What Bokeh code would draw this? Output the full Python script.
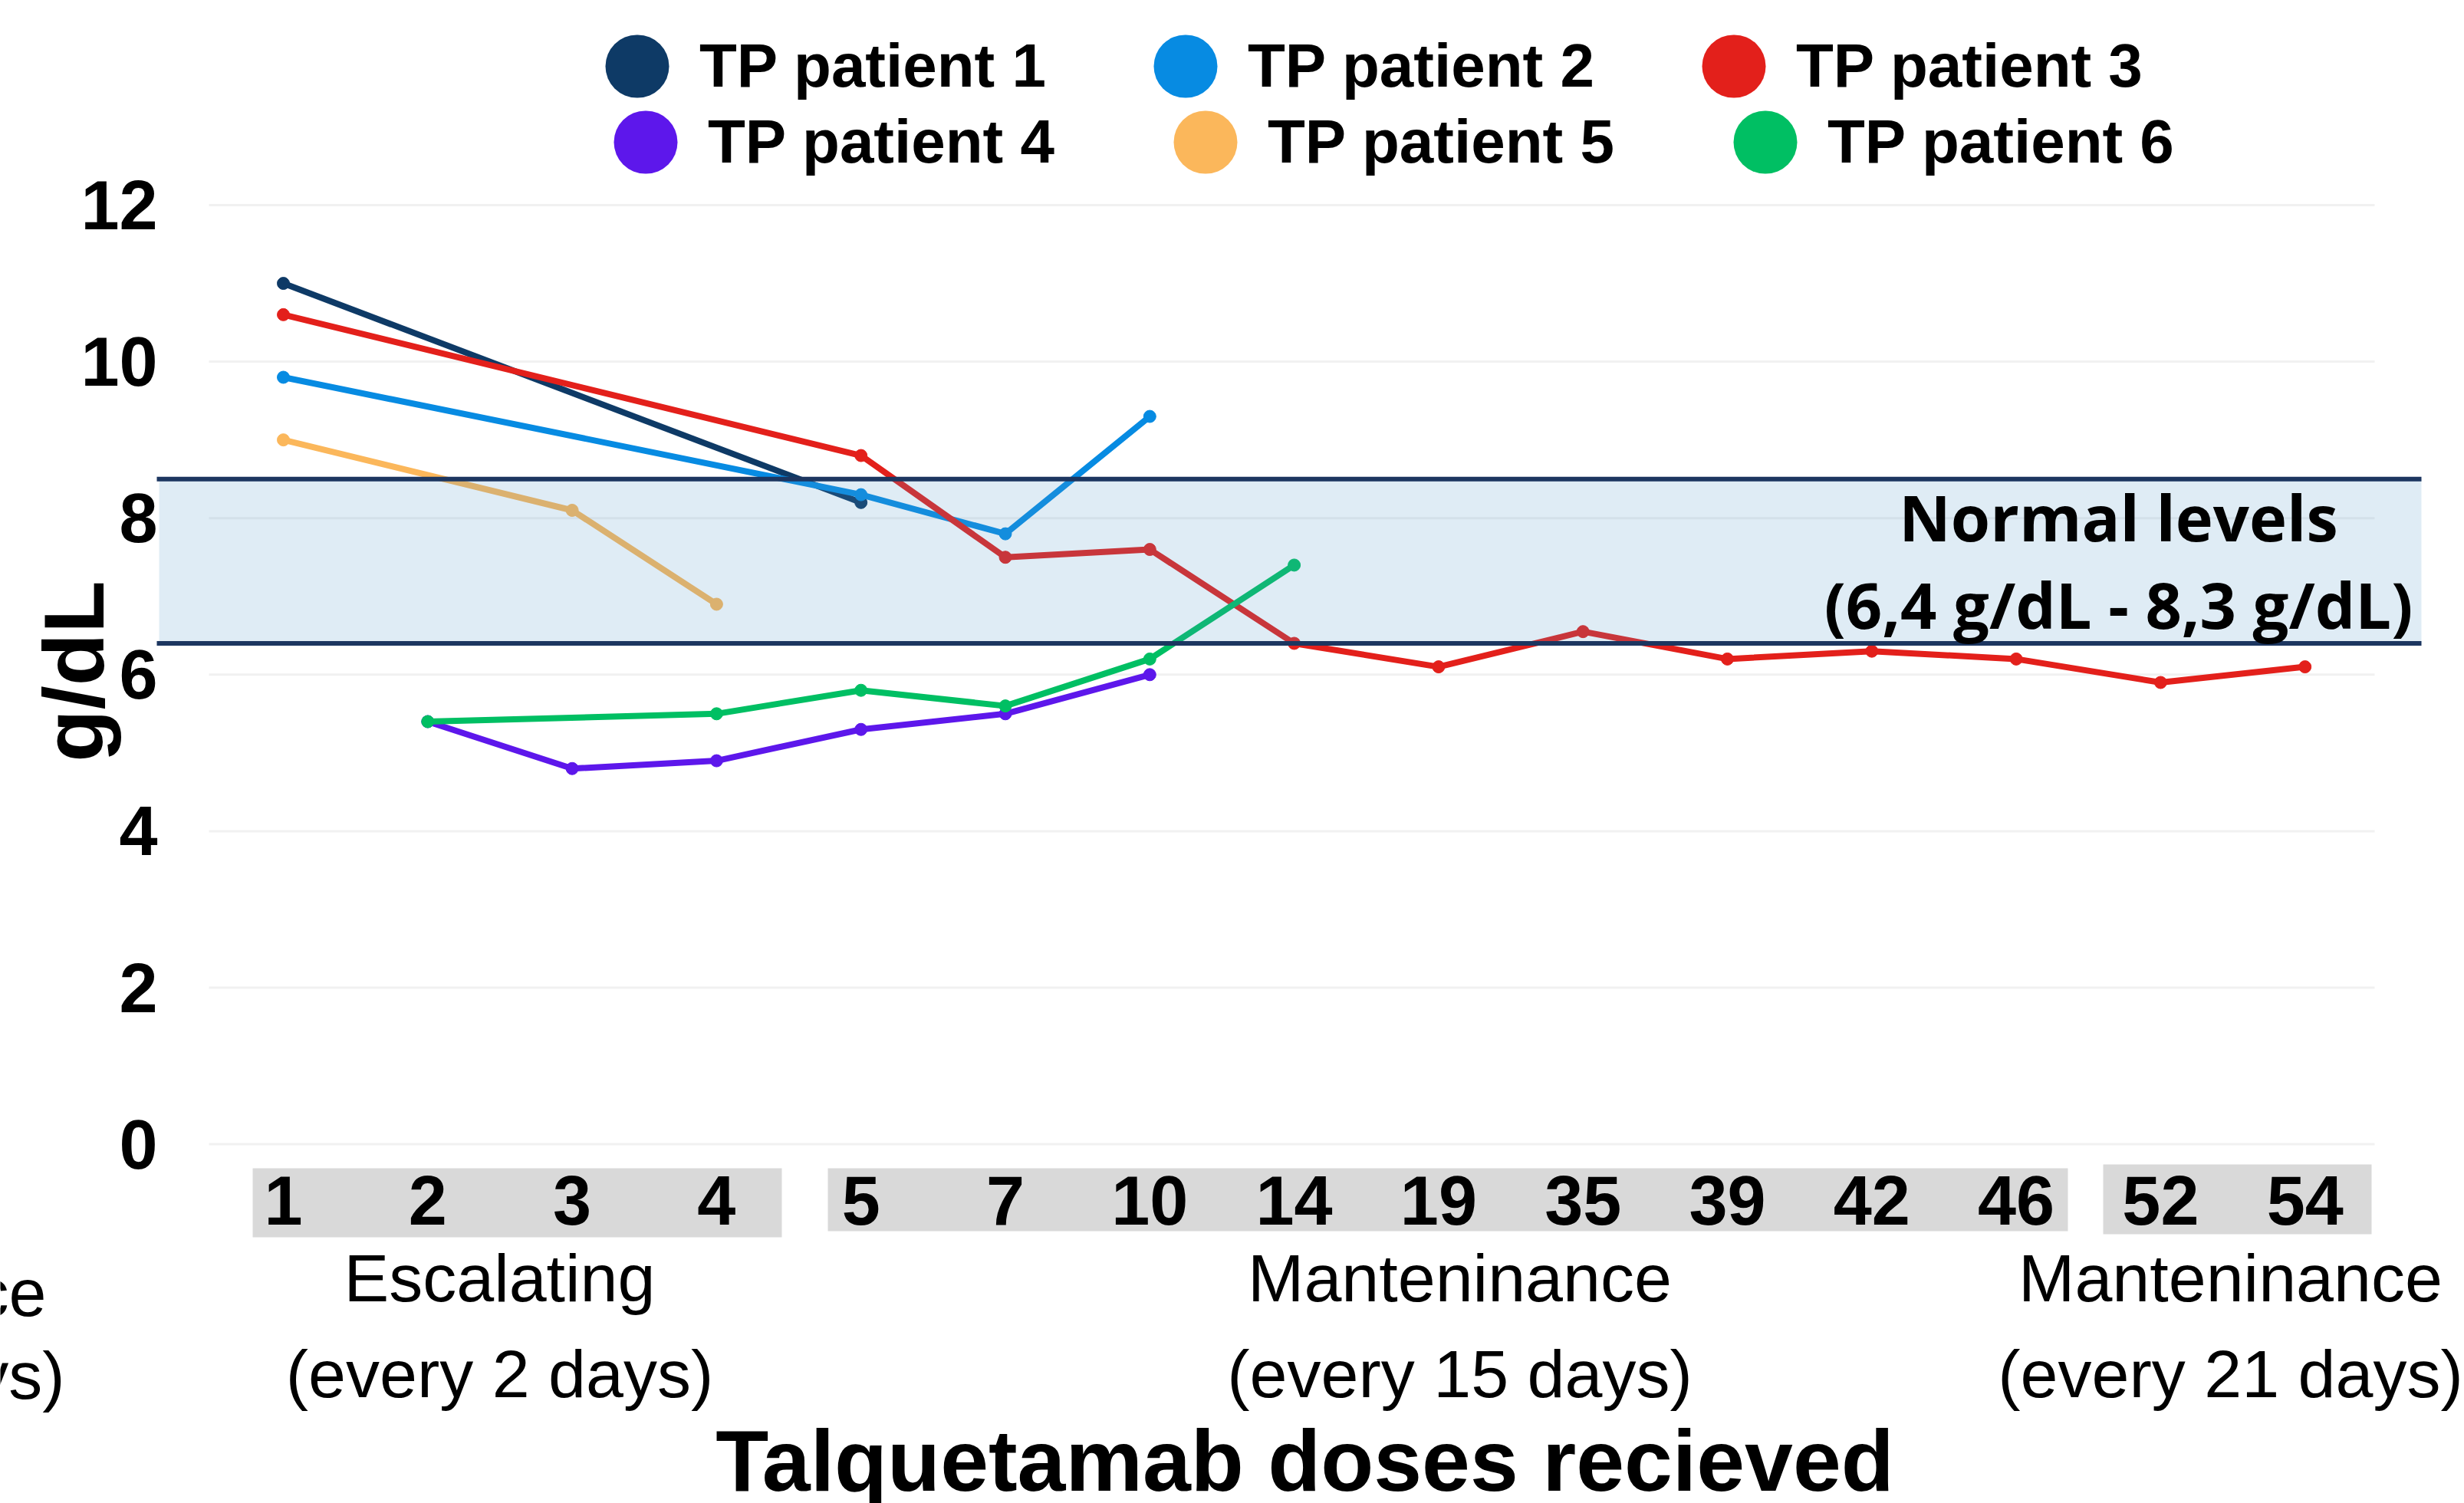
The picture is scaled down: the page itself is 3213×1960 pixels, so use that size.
import math
from bokeh.plotting import figure
from bokeh.models import Range1d, FixedTicker, Legend, LegendItem
from bokeh.core.properties import value
from bokeh.embed import file_html
from bokeh.resources import INLINE

# ---------------- data ----------------
doses = ["1", "2", "3", "4", "5", "7", "10", "14", "19", "35", "39", "42", "46", "52", "54"]
patients = ["TP patient 1", "TP patient 2", "TP patient 3",
            "TP patient 4", "TP patient 5", "TP patient 6"]

p1_doses = ["1", "5"]
p1_vals = [11.0, 8.2]
p2_doses = ["1", "5", "7", "10"]
p2_vals = [9.8, 8.3, 7.8, 9.3]
p3_doses = ["1", "5", "7", "10", "14", "19", "35", "39", "42", "46", "52", "54"]
p3_vals = [10.6, 8.8, 7.5, 7.6, 6.4, 6.1, 6.55, 6.2, 6.3, 6.2, 5.9, 6.1]
p4_doses = ["2", "3", "4", "5", "7", "10"]
p4_vals = [5.4, 4.8, 4.9, 5.3, 5.5, 6.0]
p5_doses = ["1", "3", "4"]
p5_vals = [9.0, 8.1, 6.9]
p6_doses = ["2", "4", "5", "7", "10", "14"]
p6_vals = [5.4, 5.5, 5.8, 5.6, 6.2, 7.4]

y_ticks = [0, 2, 4, 6, 8, 10, 12]
normal_low = 6.4
normal_high = 8.5
normal_text = ["Normal levels", "(6,4 g/dL - 8,3 g/dL)"]
phase_names = ["Escalating", "Manteninance", "Manteninance"]
phase_freq = ["(every 2 days)", "(every 15 days)", "(every 21 days)"]
cut_text = ["ce", "ys)"]
y_title = "g/dL"
x_title = "Talquetamab doses recieved"

series_doses = [p1_doses, p2_doses, p3_doses, p4_doses, p5_doses, p6_doses]
series_vals = [p1_vals, p2_vals, p3_vals, p4_vals, p5_vals, p6_vals]
colors = ["#0e3a66", "#078be2", "#e3201b", "#5d17eb", "#fbb75b", "#00bf63"]

# ---------------- layout helpers (pixel placement) ----------------
W, H = 3213, 1960
X0, DX = 369.0, 188.3      # page x of first dose, spacing
Y0, DY = 1491.6, 102.05    # page y of value 0, px per unit


def px2x(px):
    return (px - X0) / DX


def py2y(py):
    return (Y0 - py) / DY


def tb(py, size):
    # text glyph anchor correction (glyph renders lower than anchor)
    return py2y(py - 0.3 * size)


p = figure(width=W, height=H, output_backend="svg", toolbar_location=None,
           title=None, min_border=0,
           x_range=Range1d(px2x(0), px2x(W)),
           y_range=Range1d(py2y(H), py2y(0)))
p.outline_line_color = None
p.background_fill_color = "white"
p.border_fill_color = "white"
p.xgrid.visible = False
p.ygrid.visible = False

# axes placed inside the frame
yax = p.yaxis[0]
yax.ticker = FixedTicker(ticks=y_ticks)
yax.fixed_location = px2x(214)
yax.axis_line_color = None
yax.major_tick_line_color = None
yax.minor_tick_line_color = None
yax.major_label_standoff = 3
yax.major_label_text_font = "Liberation Sans"
yax.major_label_text_font_style = "bold"
yax.major_label_text_font_size = "90px"
yax.major_label_text_color = "black"

xax = p.xaxis[0]
xax.ticker = FixedTicker(ticks=list(range(len(doses))))
xax.major_label_overrides = {i: d for i, d in enumerate(doses)}
xax.fixed_location = py2y(1527)
xax.axis_line_color = None
xax.major_tick_line_color = None
xax.minor_tick_line_color = None
xax.major_label_standoff = 0
xax.major_label_text_font = "Liberation Sans"
xax.major_label_text_font_style = "bold"
xax.major_label_text_font_size = "90px"
xax.major_label_text_color = "black"

# light horizontal gridlines
p.segment(x0=px2x(272), x1=px2x(3096), y0=y_ticks, y1=y_ticks,
          line_color="#f1f1f1", line_width=3)

# grey boxes behind dose labels
p.quad(left=[px2x(329), px2x(1079), px2x(2742)],
       right=[px2x(1019), px2x(2696), px2x(3092)],
       top=[py2y(1523), py2y(1523), py2y(1518)],
       bottom=[py2y(1613), py2y(1605), py2y(1609)],
       fill_color="#d9d9d9", line_color=None)

# patient lines
for ds, vs, c in zip(series_doses, series_vals, colors):
    xs = [doses.index(d) for d in ds]
    p.line(xs, vs, line_color=c, line_width=8)
    p.scatter(xs, vs, size=16, fill_color=c, line_color=c)

# normal range band (translucent overlay) and its edge lines
p.quad(left=px2x(207), right=px2x(3157), bottom=normal_low, top=normal_high,
       fill_color=(82, 152, 201), fill_alpha=0.185, line_color=None)
p.segment(x0=px2x(204), x1=px2x(3157), y0=[normal_low, normal_high],
          y1=[normal_low, normal_high], line_color="#1c3660", line_width=6)

p.text(x=[px2x(2762)] * 2, y=[tb(698, 83), tb(812, 83)], text=normal_text,
       text_font=value("Open Sans"), text_font_style="bold",
       text_font_size="83px", text_align="center", text_baseline="alphabetic",
       text_color="black")

# phase labels
phase_x = [px2x(651), px2x(1903), px2x(2908)]
p.text(x=phase_x, y=[tb(1692, 88)] * 3, text=phase_names,
       text_font=value("Liberation Sans"), text_font_size="88px",
       text_align="center", text_baseline="alphabetic", text_color="black")
p.text(x=phase_x, y=[tb(1817, 88)] * 3, text=phase_freq,
       text_font=value("Liberation Sans"), text_font_size="88px",
       text_align="center", text_baseline="alphabetic", text_color="black")
p.text(x=[px2x(60), px2x(84)], y=[tb(1711, 88), tb(1819, 88)], text=cut_text,
       text_font=value("Liberation Sans"), text_font_size="88px",
       text_align="right", text_baseline="alphabetic", text_color="black")

# axis titles
p.text(x=[px2x(130 - 0.3 * 112)], y=[py2y(875)], text=[y_title], angle=math.pi / 2,
       text_font=value("Liberation Sans"), text_font_style="bold",
       text_font_size="112px", text_align="center", text_baseline="alphabetic",
       text_color="black")
p.text(x=[px2x(1701)], y=[tb(1938, 113)], text=[x_title],
       text_font=value("Liberation Sans"), text_font_style="bold",
       text_font_size="113px", text_align="center", text_baseline="alphabetic",
       text_color="black")

# legend: big round dots drawn as a single round-capped dash in a small glyph box
GB = 86
DOT = 82
dummies = [p.line(x=[px2x(-600), px2x(-590)], y=[0, 0], line_color=c,
                  line_width=DOT, line_cap="round",
                  line_dash="1 400", line_dash_offset=-(GB // 2))
           for c in colors]


def make_legend(idx, cx, cy, spacing):
    return Legend(items=[LegendItem(label=patients[k], renderers=[dummies[k]]) for k in idx],
                  orientation="horizontal", location=(cx - GB / 2, H - (cy + 45)),
                  glyph_width=GB, glyph_height=GB, label_standoff=82 - GB // 2,
                  spacing=spacing, padding=0, margin=0,
                  border_line_color=None, background_fill_alpha=0,
                  label_text_font="Liberation Sans", label_text_font_style="bold",
                  label_text_font_size="80px", label_height=90,
                  label_text_color="black")


p.add_layout(make_legend([0, 1, 2], 830, 87, 138))
p.add_layout(make_legend([3, 4, 5], 841, 186, 153))

open("out.html", "w").write(file_html(p, INLINE))
